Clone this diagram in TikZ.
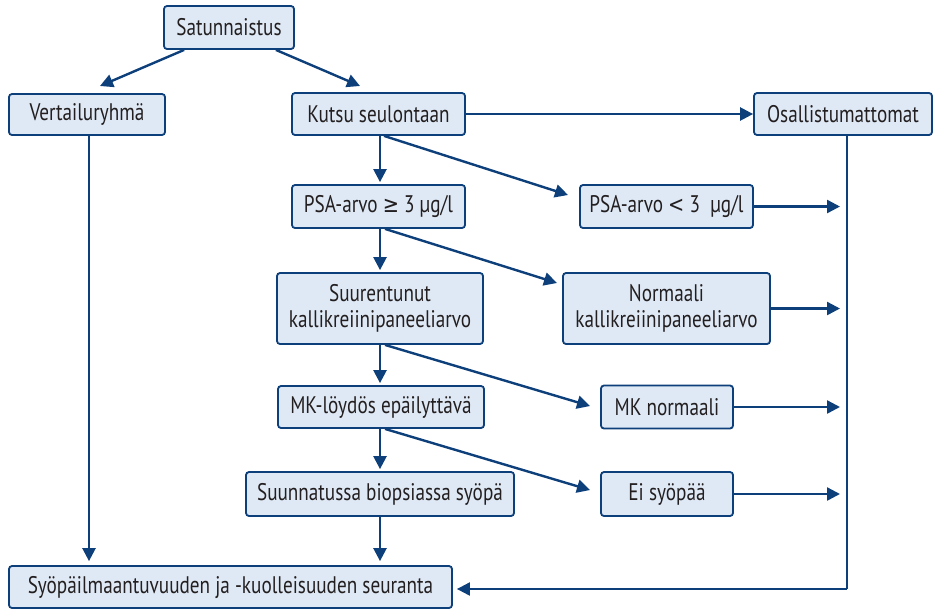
\documentclass[tikz,border=0pt]{standalone}
\usepackage{fontspec}
\setmainfont[FakeStretch=0.80]{PT Sans}
\newfontfamily\symfont[FakeStretch=0.85,Scale=0.95]{DejaVu Sans}
\usetikzlibrary{arrows.meta,calc}
\definecolor{lineblue}{HTML}{0D3F7A}
\definecolor{boxfill}{HTML}{DFE9F5}
\definecolor{txt}{HTML}{231F20}
\tikzset{
  box/.style={draw=lineblue,fill=boxfill,line width=1.8pt,rounded corners=3pt,inner sep=0pt,
    align=center,text=txt,font=\fontsize{24}{26}\selectfont},
  conn/.style={draw=lineblue,line width=2.4pt,-{Triangle[length=13pt,width=13pt]}},
  plain/.style={draw=lineblue,line width=2.4pt}
}
\begin{document}
\begin{tikzpicture}[x=1pt,y=-1pt]
\useasboundingbox (0,0) rectangle (933,611);
\node[box,minimum width=130pt,minimum height=43pt] (sat) at (229,27.5) {Satunnaistus};
\node[box,minimum width=156pt,minimum height=41pt] (ver) at (87,114.5) {Vertailuryhmä};
\node[box,minimum width=173pt,minimum height=42pt] (kut) at (378.5,114) {Kutsu seulontaan};
\node[box,minimum width=178pt,minimum height=42pt] (osa) at (843,114) {Osallistumattomat};
\node[box,minimum width=173pt,minimum height=43pt] (psa1) at (378.5,206.5) {PSA-arvo {\symfont ≥} 3 µg/l};
\node[box,minimum width=173pt,minimum height=43pt] (psa2) at (666.5,206.5) {PSA-arvo {\symfont <} 3~ µg/l};
\node[box,minimum width=206pt,minimum height=71pt] (suu) at (380,308.5) {Suurentunut\\kallikreiinipaneeliarvo};
\node[box,minimum width=207pt,minimum height=71pt] (nor) at (666.5,308.5) {Normaali\\kallikreiinipaneeliarvo};
\node[box,minimum width=206pt,minimum height=42pt] (mk1) at (381,407) {MK-löydös epäilyttävä};
\node[box,minimum width=132pt,minimum height=43pt] (mk2) at (667,407) {MK normaali};
\node[box,minimum width=268pt,minimum height=44pt] (bio) at (380,494) {Suunnatussa biopsiassa syöpä};
\node[box,minimum width=132pt,minimum height=44pt] (ei) at (667,494) {Ei syöpää};
\node[box,minimum width=443pt,minimum height=42pt] (seu) at (230.5,587) {Syöpäilmaantuvuuden ja -kuolleisuuden seuranta};

\coordinate (vx) at (847,0);
\coordinate (corner) at (847,589);

% top split
\draw[conn] ($(sat.south west)+(21,0)$) -- (100,86);
\draw[conn] ($(sat.south east)+(-19,0)$) -- (360,86);
\draw[conn] (kut.east) -- (osa.west);
% left column
\draw[conn] (ver.south -| 89,0) -- ($(seu.north -| 89,0)+(0,-4)$);
% main column
\draw[conn] (kut.south -| 380,0) -- ($(psa1.north -| 380,0)+(0,-2)$);
\draw[conn] (psa1.south -| 380,0) -- ($(suu.north -| 380,0)+(0,-2)$);
\draw[conn] (suu.south -| 380,0) -- ($(mk1.north -| 380,0)+(0,-2)$);
\draw[conn] (mk1.south -| 380,0) -- ($(bio.north -| 380,0)+(0,-2)$);
\draw[conn] (bio.south -| 380,0) -- ($(seu.north -| 380,0)+(0,-4)$);
% diagonals
\draw[conn] (kut.south -| 384,0) -- (568,195);
\draw[conn] (psa1.south -| 385,0) -- (557,283);
\draw[conn] (suu.south -| 385,0) -- (590,406);
\draw[conn] (mk1.south -| 385,0) -- (590,490);
% right outputs
\draw[conn] (psa2.east) -- (psa2.east -| 840,0);
\draw[conn] (nor.east) -- (nor.east -| 840,0);
\draw[conn] (mk2.east) -- (mk2.east -| 840,0);
\draw[conn] (ei.east) -- (ei.east -| 840,0);
% right collector
\draw[plain,line width=2pt] (osa.south -| vx) -- (corner);
\draw[conn,line width=2pt] (corner) -- ($(seu.east)+(4,2)$);
\end{tikzpicture}
\end{document}
